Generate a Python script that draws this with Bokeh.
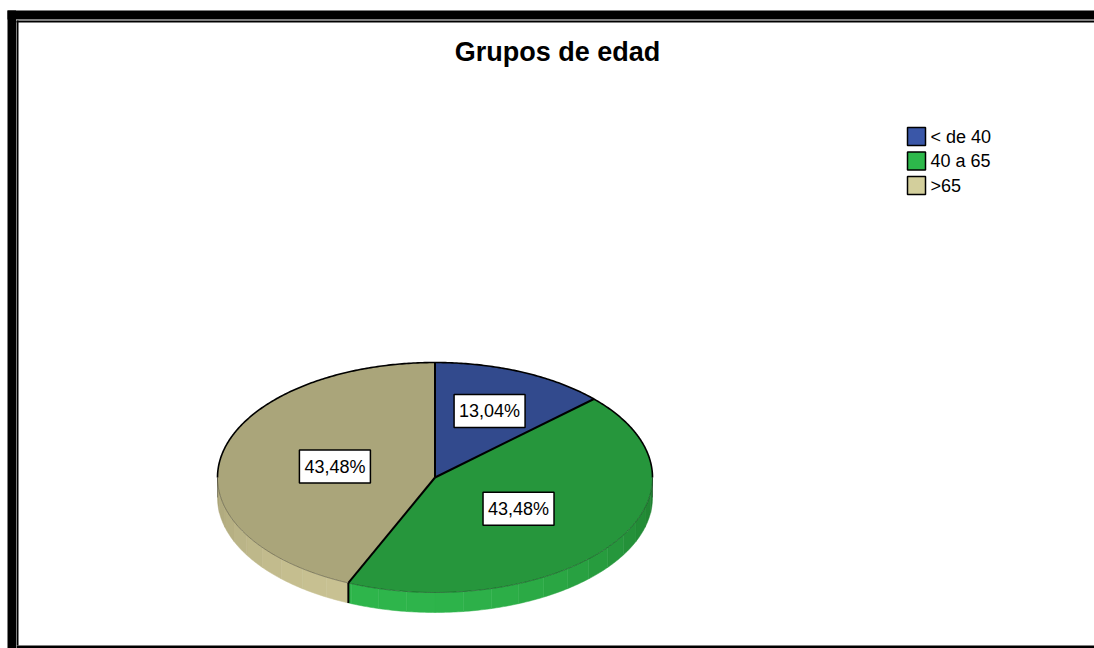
import numpy as np
from bokeh.plotting import figure
from bokeh.models import Range1d
from bokeh.embed import file_html
from bokeh.resources import INLINE
from bokeh.core.properties import value

# ---------------- data ----------------
title = "Grupos de edad"
categories = ["< de 40", "40 a 65", ">65"]
percent = [13.04, 43.48, 43.48]
label_text = ["13,04%", "43,48%", "43,48%"]

# ---------------- style ----------------
top_colors = ["#324a8d", "#26963c", "#aaa57a"]
legend_colors = ["#3a57a8", "#2db84b", "#d3cf9c"]
side_dark = ["#26386a", "#1f8030", "#959168"]
side_light = ["#3a56a0", "#2eb54b", "#c9c293"]
label_radius = [0.63, 0.47, 0.47]
FONT = "Liberation Sans"

W, H = 1094, 648
CX, CY, RX, RY, DEPTH = 434.5, 477.0, 217.5, 115.0, 20.0
FACET = 7.5

p = figure(width=W, height=H, x_range=Range1d(0, W), y_range=Range1d(H, 0),
           output_backend="svg", toolbar_location=None,
           x_axis_location=None, y_axis_location=None, min_border=0)
p.grid.visible = False
p.outline_line_color = None
p.background_fill_color = "white"
p.border_fill_color = "white"

# white right margin strip (to cover any edge artefact), then frame
p.quad(left=[W - 4], right=[W + 2], top=[22], bottom=[645],
       fill_color="white", line_color=None)
p.quad(left=[7, 7, 16, 16, 16], right=[W, 15.5, W, 18, W],
       top=[10, 10, 20, 20, 645], bottom=[19, H, 22, 645, H],
       fill_color="black", line_color=None)


def pt(theta, dy=0.0):
    r = np.radians(theta)
    return CX + RX * np.cos(r), CY - RY * np.sin(r) + dy


def hex2rgb(h):
    h = h.lstrip("#")
    return np.array([int(h[i:i + 2], 16) for i in (0, 2, 4)], dtype=float)


def lerp_color(c0, c1, t):
    c = hex2rgb(c0) * (1 - t) + hex2rgb(c1) * t
    return "#%02x%02x%02x" % tuple(int(round(v)) for v in c)


# slice angles (start at 12 o'clock, clockwise)
starts, ends = [], []
a = 90.0
for v in percent:
    sweep = v / 100.0 * 360.0
    starts.append(a)
    ends.append(a - sweep)
    a -= sweep

# side (rim) facets, only for the lower half of the ellipse
qx, qy, qc = [], [], []
for i in range(len(percent)):
    t0, t1 = starts[i], ends[i]
    brk = [t0, t1]
    for k in range(int(np.floor(t1 / FACET)) - 1, int(np.ceil(t0 / FACET)) + 2):
        if t1 < k * FACET < t0:
            brk.append(k * FACET)
    brk = sorted(set(brk), reverse=True)
    for a0, a1 in zip(brk[:-1], brk[1:]):
        m = 0.5 * (a0 + a1)
        if np.sin(np.radians(m)) >= 0:
            continue
        f = np.cos(np.radians(m - 255.0))
        t = float(np.clip((f + 0.2) / 1.2, 0, 1))
        arc = np.linspace(a0, a1, 12)
        xs, ys = pt(arc)
        xb, yb = pt(arc[::-1], DEPTH)
        qx.append(list(xs) + list(xb))
        qy.append(list(ys) + list(yb))
        qc.append(lerp_color(side_dark[i], side_light[i], t))
p.patches(qx, qy, fill_color=qc, line_color=qc, line_width=0.5)

# top faces
for i in range(len(percent)):
    angs = np.linspace(starts[i], ends[i], 240)
    xs, ys = pt(angs)
    p.patch([CX] + list(xs), [CY] + list(ys), fill_color=top_colors[i],
            line_color=None)

# subtle lower edge of top face and rim ends
la = np.linspace(180, 360, 300)
lx, ly = pt(la)
p.line(lx, ly, line_color="black", line_alpha=0.3, line_width=1)
for e in (180.0, 360.0):
    ex, ey = pt(e)
    p.line([ex, ex], [ey, ey + DEPTH], line_color="black", line_alpha=0.3, line_width=1)

# upper arc outline
ua = np.linspace(0, 180, 300)
ux, uy = pt(ua)
p.line(ux, uy, line_color="black", line_width=1.6)

# radii and side boundaries
for s in starts:
    sx, sy = pt(s)
    p.line([CX, sx], [CY, sy], line_color="black", line_width=2)
    if np.sin(np.radians(s)) < 0:
        p.line([sx, sx], [sy, sy + DEPTH], line_color="black", line_width=2)

# labels
lbx, lby = [], []
for i in range(len(percent)):
    m = 0.5 * (starts[i] + ends[i])
    r = np.radians(m)
    lbx.append(CX + label_radius[i] * RX * np.cos(r))
    lby.append(CY - label_radius[i] * RY * np.sin(r))
p.rect(x=lbx, y=lby, width=71, height=33, fill_color="white",
       line_color="black", line_width=1.5)
p.text(x=lbx, y=lby, text=label_text, text_align="center",
       text_baseline="middle", text_font=value(FONT), text_font_size="18px",
       text_color="black")

# title
p.text(x=[557], y=[51.5], text=[title], text_align="center",
       text_baseline="middle", text_font=value(FONT),
       text_font_size="27px", text_font_style="bold", text_color="black")

# legend
leg_y = [136 + 24.5 * i for i in range(len(categories))]
p.rect(x=[916] * len(categories), y=leg_y, width=18, height=18,
       fill_color=legend_colors, line_color="black", line_width=1.5)
p.text(x=[930] * len(categories), y=leg_y, text=categories, text_align="left",
       text_baseline="middle", text_font=value(FONT), text_font_size="18px",
       text_color="black")

open("out.html", "w").write(file_html(p, INLINE))
